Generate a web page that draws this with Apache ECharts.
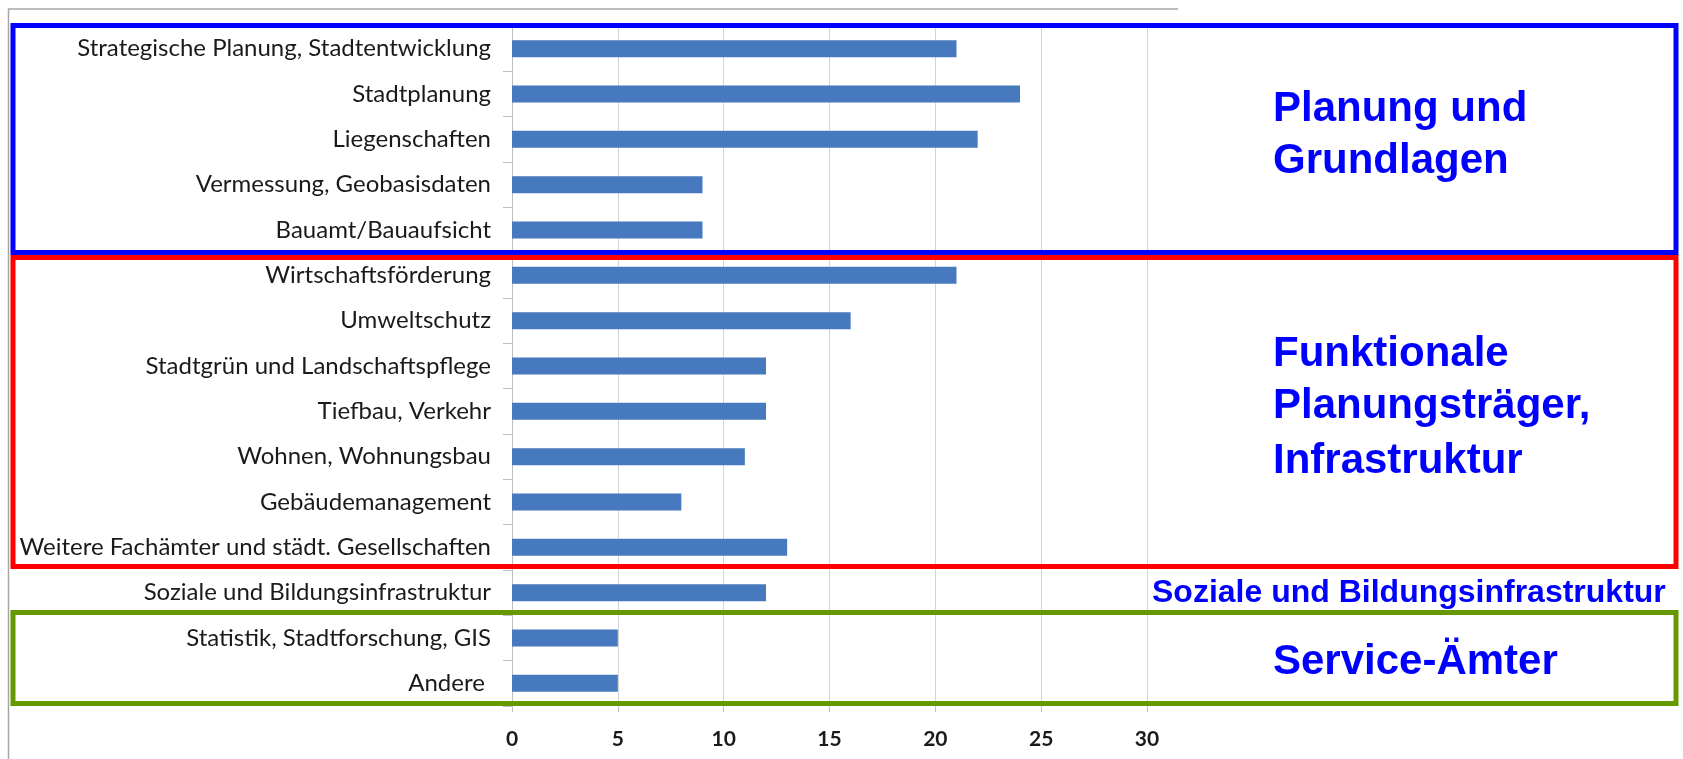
<!DOCTYPE html>
<html>
<head>
<meta charset="utf-8">
<script src="https://cdn.jsdelivr.net/npm/echarts@6/dist/echarts.min.js"></script>
<style>
  html, body { margin: 0; padding: 0; background: #fff; }
  #chart { width: 1683px; height: 759px; }
</style>
</head>
<body>
<div id="chart"></div>
<script>
// Aufgabenbereiche (von oben nach unten)
const categories = [
  'Strategische Planung, Stadtentwicklung',
  'Stadtplanung',
  'Liegenschaften',
  'Vermessung, Geobasisdaten',
  'Bauamt/Bauaufsicht',
  'Wirtschaftsförderung',
  'Umweltschutz',
  'Stadtgrün und Landschaftspflege',
  'Tiefbau, Verkehr',
  'Wohnen, Wohnungsbau',
  'Gebäudemanagement',
  'Weitere Fachämter und städt. Gesellschaften',
  'Soziale und Bildungsinfrastruktur',
  'Statistik, Stadtforschung, GIS',
  'Andere '
];
const values = [21, 24, 22, 9, 9, 21, 16, 12, 12, 11, 8, 13, 12, 5, 5];

// x axis ticks
const xMin = 0;
const xMax = 30;
const xStep = 5;

// group captions
const groupPlanung = ['Planung und', 'Grundlagen'];
const groupFunktional = ['Funktionale', 'Planungsträger,', 'Infrastruktur'];
const groupSozial = 'Soziale und Bildungsinfrastruktur';
const groupService = 'Service-Ämter';

const chart = echarts.init(document.getElementById('chart'));

const bigFont = 'bold 42px "Liberation Sans", Arial, sans-serif';
const blue = '#0000ff';

function caption(text, x, y, font) {
  return {
    type: 'text', z: 100,
    style: { text: text, x: x, y: y, font: font, fill: blue, verticalAlign: 'middle' }
  };
}

function box(y1, y2, color) {
  return {
    type: 'rect', z: 90,
    shape: { x: 13, y: y1, width: 1663, height: y2 - y1 },
    style: { fill: 'none', stroke: color, lineWidth: 5 }
  };
}

const option = {
  backgroundColor: '#ffffff',
  animation: false,
  grid: { left: 512, right: 536, top: 26, bottom: 53, containLabel: false },
  xAxis: {
    type: 'value',
    min: xMin, max: xMax, interval: xStep,
    axisLine: { show: false },
    axisTick: { show: true, length: 6, lineStyle: { color: '#bfbfbf' } },
    splitLine: { show: true, lineStyle: { color: '#d4d4d4', width: 1 } },
    axisLabel: {
      margin: 23,
      color: '#1a1a1a',
      fontWeight: 'bold',
      fontFamily: 'Lato, sans-serif',
      fontSize: 21
    }
  },
  yAxis: {
    type: 'category',
    inverse: true,
    data: categories,
    axisLine: { show: true, lineStyle: { color: '#bfbfbf', width: 1 } },
    axisTick: { show: true, length: 9, lineStyle: { color: '#bfbfbf' } },
    axisLabel: {
      margin: 21,
      color: '#1a1a1a',
      fontFamily: 'Lato, sans-serif',
      fontSize: 24
    }
  },
  series: [{
    type: 'bar',
    data: values,
    barWidth: 17,
    itemStyle: { color: '#4679bd' }
  }],
  graphic: [
    // frame of the original slide picture
    { type: 'line', z: 80, shape: { x1: 8, y1: 9, x2: 1178, y2: 9 },
      style: { stroke: '#a6a6a6', lineWidth: 1.5 } },
    { type: 'line', z: 80, shape: { x1: 8.5, y1: 9, x2: 8.5, y2: 759 },
      style: { stroke: '#a6a6a6', lineWidth: 1.5 } },
    box(25.5, 252.5, '#0000ff'),
    box(257.5, 566.5, '#ff0000'),
    box(612.5, 703.5, '#669900'),
    caption(groupPlanung[0], 1273, 109, bigFont),
    caption(groupPlanung[1], 1273, 161, bigFont),
    caption(groupFunktional[0], 1273, 354, bigFont),
    caption(groupFunktional[1], 1273, 406, bigFont),
    caption(groupFunktional[2], 1273, 461, bigFont),
    caption(groupSozial, 1152, 593, 'bold 32px "Liberation Sans", Arial, sans-serif'),
    caption(groupService, 1273, 662, bigFont)
  ]
};

chart.setOption(option);
</script>
</body>
</html>
